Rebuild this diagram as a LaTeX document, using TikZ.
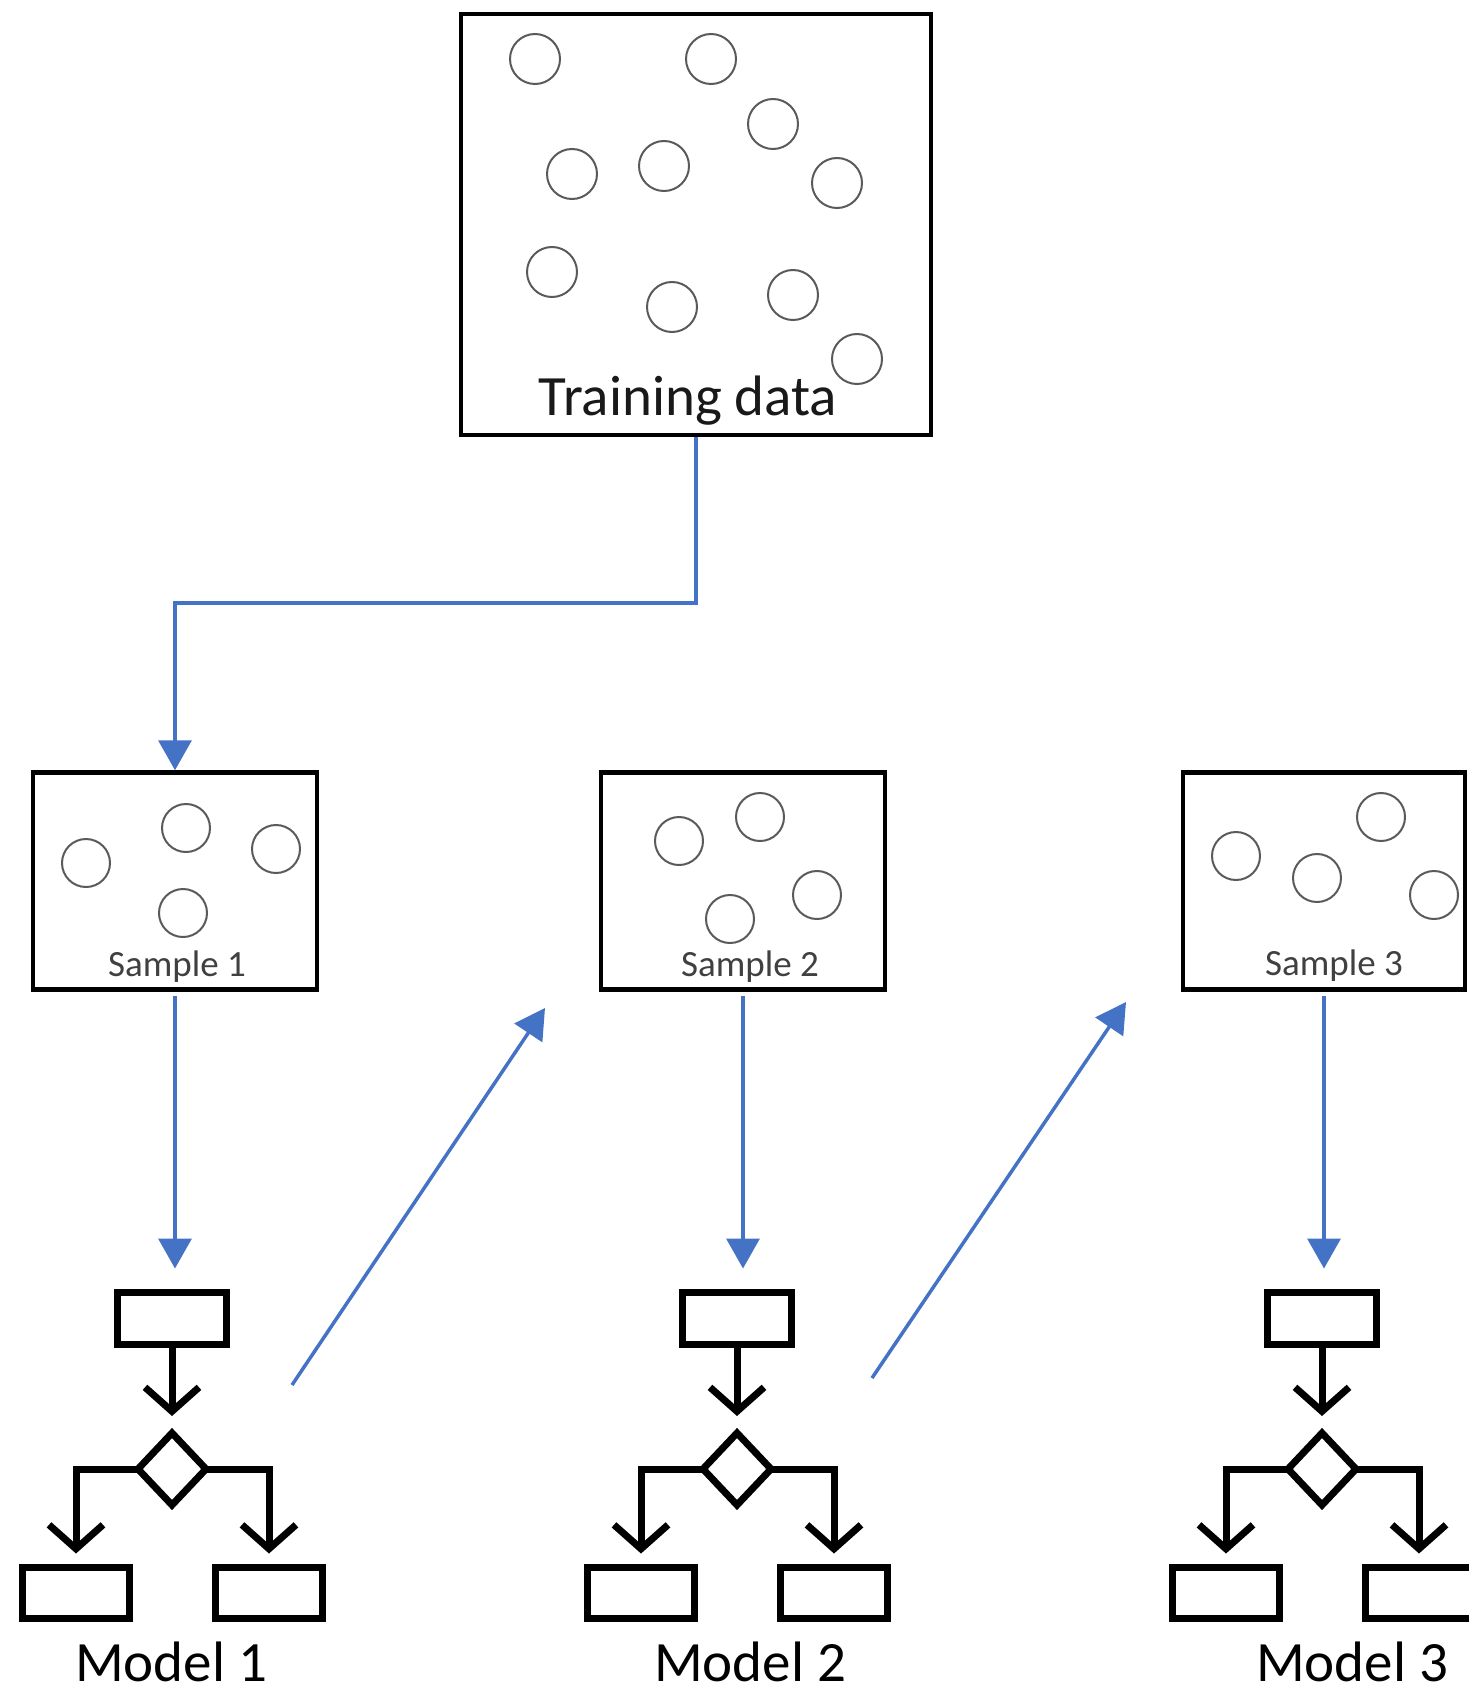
\documentclass[tikz,border=0pt]{standalone}
\usepackage{fontspec}
\setmainfont{Carlito}
\usetikzlibrary{arrows.meta,positioning,shapes.geometric}
\definecolor{flowblue}{HTML}{4472C4}
\definecolor{dotgray}{HTML}{5A5A5A}

\begin{document}
\begin{tikzpicture}[x=1pt,y=-1pt,
  box/.style={draw,line width=4.5pt,inner sep=0pt},
  dot/.style={draw=dotgray,line width=2pt},
  flow/.style={draw=flowblue,line width=3.5pt,-{Triangle[length=30pt,width=33pt]}},
  leaf/.style={draw,line width=7pt,minimum width=107pt,minimum height=51pt,inner sep=0pt},
  split/.style={diamond,draw,line width=7pt,minimum width=68pt,minimum height=72pt,
                inner sep=0pt,outer sep=0pt},
  tree/.style={line width=7pt,-{Straight Barb[length=24pt,width=54pt]}},
  bigtext/.style={font=\fontsize{57}{60}\selectfont,anchor=base,inner sep=0pt},
  smalltext/.style={font=\fontsize{37}{40}\selectfont,text=black!75,anchor=base,inner sep=0pt}]
\useasboundingbox (0,0) rectangle (1468,1693);

\node[box,minimum width=470pt,minimum height=421pt] (train) at (696,224.5) {};
\foreach \cx/\cy in {535/59,711/59,773/124,572/174,664/166,837/183,552/272,672/307,793/295,857/359}
  \draw[dot] (\cx,\cy) circle[radius=25pt];
\node[bigtext,text=black!90] (trainlbl) at (688,415) {Training data};

\node[box,minimum width=284pt,minimum height=217pt] (s1) at (175,881) {};
\node[box,minimum width=284pt,minimum height=217pt] (s2) at (743,881) {};
\node[box,minimum width=282pt,minimum height=217pt] (s3) at (1324,881) {};
\foreach \cx/\cy in {86/863,186/828,276/849,183/913,
                     679/841,760/817,817/895,730/919,
                     1236/856,1317/878,1381/817,1434/895}
  \draw[dot] (\cx,\cy) circle[radius=24pt];
\node[smalltext] (s1lbl) at (177,976) {Sample 1};
\node[smalltext] (s2lbl) at (750,976) {Sample 2};
\node[smalltext] (s3lbl) at (1334,975) {Sample 3};

\foreach \i/\cx/\lx in {1/172/171,2/737/750,3/1322/1352}{
  \node[leaf,minimum width=109pt,minimum height=52pt] (top\i) at (\cx,1318) {};
  \node[split] (dec\i) at (\cx,1469) {};
  \node[leaf] (leafl\i) at (\cx-96,1592.5) {};
  \node[leaf] (leafr\i) at (\cx+97,1592.5) {};
  \node[bigtext] (model\i) at (\lx,1681) {Model \i};
  \draw[tree,shorten >=17pt] (top\i) -- (dec\i);
  \draw[tree,shorten >=10pt] (dec\i.west) -| (leafl\i);
  \draw[tree,shorten >=10pt] (dec\i.east) -| (leafr\i);
  \draw[flow,shorten <=4pt,shorten >=20pt] (s\i) -- (s\i.south |- top\i.north);
}

\coordinate (fork) at (175,603);
\draw[flow] (train.south) |- (fork) -- (s1.north);

\coordinate (rise1a) at (292,1385);
\coordinate (rise1b) at (545,1008);
\coordinate (rise2a) at (872,1378);
\coordinate (rise2b) at (1126,1002);
\draw[flow] (rise1a) -- (rise1b);
\draw[flow] (rise2a) -- (rise2b);
\end{tikzpicture}
\end{document}
